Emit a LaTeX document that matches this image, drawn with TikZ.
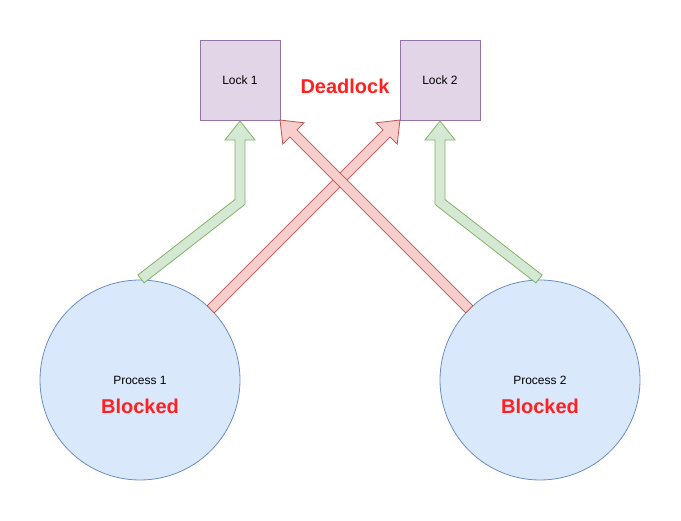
\documentclass[tikz,border=0pt]{standalone}
\usepackage{fontspec}
\setmainfont{Liberation Sans}
\definecolor{lockfill}{HTML}{E1D5E7}
\definecolor{lockdraw}{HTML}{9673A6}
\definecolor{procfill}{HTML}{DAE8FC}
\definecolor{procdraw}{HTML}{6C8EBF}
\definecolor{gfill}{HTML}{D5E8D4}
\definecolor{gdraw}{HTML}{82B366}
\definecolor{rfill}{HTML}{F8CECC}
\definecolor{rdraw}{HTML}{B85450}
\definecolor{alert}{HTML}{FF2020}
\begin{document}
\begin{tikzpicture}[x=1pt,y=-1pt,
  lockbox/.style={draw=lockdraw,fill=lockfill,line width=0.8pt,minimum width=80pt,minimum height=80pt,inner sep=0pt,font=\fontsize{12}{14}\selectfont},
  proc/.style={circle,draw=procdraw,fill=procfill,line width=0.8pt,minimum size=200pt,inner sep=0pt},
  small/.style={font=\fontsize{12}{14}\selectfont,inner sep=0pt},
  big/.style={font=\fontsize{20}{24}\selectfont\bfseries,text=alert,inner sep=0pt},
  garrow/.style={draw=gdraw,fill=gfill,line width=0.8pt,line join=miter},
  rarrow/.style={draw=rdraw,fill=rfill,line width=0.8pt,line join=miter}]
\useasboundingbox (0,0) rectangle (681,521);
\node[lockbox] (l1) at (240,80) {Lock 1};
\node[lockbox] (l2) at (440,80) {Lock 2};
\node[big] (dl) at (345,86) {Deadlock};
\node[proc] (p1) at (140,380) {};
\node[proc] (p2) at (540,380) {};
\node[small] (p1t) at (140,380) {Process 1};
\node[big] (p1b) at (140,406) {Blocked};
\node[small] (p2t) at (540,380) {Process 2};
\node[big] (p2b) at (540,406) {Blocked};
% green arrows
\draw[garrow] (240,121) -- (255,140) -- (245,140) -- (245,204.4) -- (144.1,282.9)
  -- (137.9,275.05) -- (235,199.5) -- (235,140) -- (225,140) -- cycle;
\draw[garrow] (440,121) -- (425,140) -- (435,140) -- (435,204.4) -- (535.9,282.9)
  -- (542.1,275.05) -- (445,199.5) -- (445,140) -- (455,140) -- cycle;
% red arrows
\draw[rarrow] (400,120) -- (397.18,144.04) -- (390.11,136.97) -- (214.24,312.84)
  -- (207.16,305.76) -- (383.03,129.89) -- (375.96,122.82) -- cycle;
\draw[rarrow] (280,120) -- (282.82,144.04) -- (289.89,136.97) -- (465.76,312.84)
  -- (472.84,305.76) -- (296.97,129.89) -- (304.04,122.82) -- cycle;
\end{tikzpicture}
\end{document}
